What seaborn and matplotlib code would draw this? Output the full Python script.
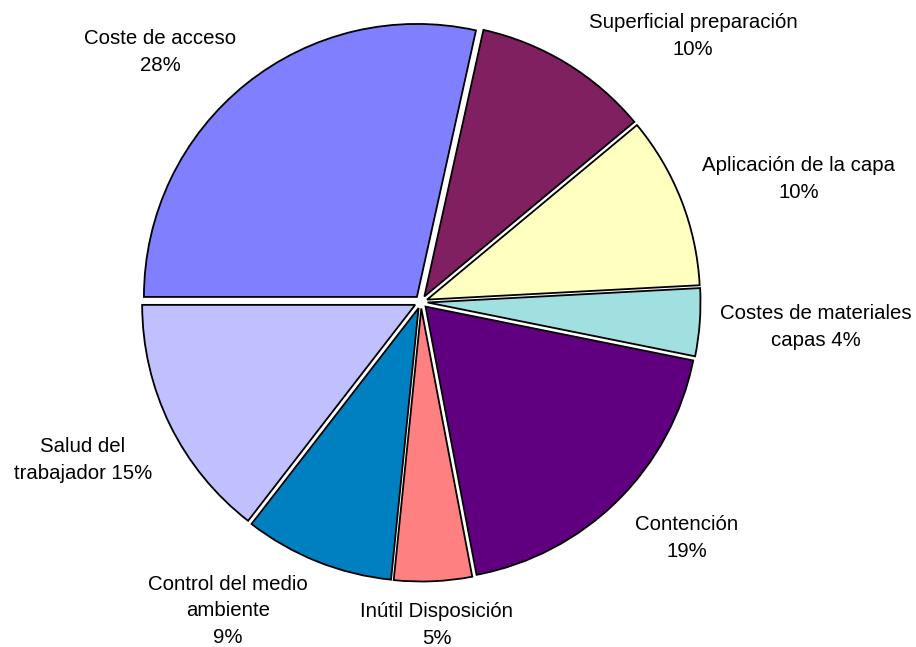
import matplotlib
matplotlib.use("Agg")
import matplotlib.pyplot as plt
import seaborn as sns

# Cost breakdown (% of total), clockwise from the 9 o'clock position
categories = [
    "Coste de acceso",
    "Superficial preparación",
    "Aplicación de la capa",
    "Costes de materiales capas",
    "Contención",
    "Inútil Disposición",
    "Control del medio ambiente",
    "Salud del trabajador",
]
shares = [28.47, 10.49, 10.2, 4.0, 18.85, 4.6, 8.87, 14.52]

# How each category name is broken over lines in its label ({} = share)
label_templates = [
    "Coste de acceso\n{}%",
    "Superficial preparación\n{}%",
    "Aplicación de la capa\n{}%",
    "Costes de materiales\ncapas {}%",
    "Contención\n{}%",
    "Inútil Disposición\n{}%",
    "Control del medio\nambiente\n{}%",
    "Salud del\ntrabajador {}%",
]

colors = ["#8080FF", "#802060", "#FFFFC0", "#A0E0E0",
          "#600080", "#FF8080", "#0080C0", "#C0C0FF"]

sns.set_theme(style="white")
plt.rcParams["font.family"] = ["Liberation Sans", "DejaVu Sans"]

W, H = 916, 647
fig = plt.figure(figsize=(W / 100, H / 100), dpi=100)
ax = fig.add_axes([0, 0, 1, 1])

cx, cy, r = 421, H - 302, 273
ax.pie(
    shares,
    colors=colors,
    startangle=180,
    counterclock=False,
    explode=[6.5] * len(shares),   # offset in pixels (data units)
    center=(cx, cy),
    radius=r,
    wedgeprops=dict(edgecolor="black", linewidth=1.3),
    frame=False,
)
ax.set_xlim(0, W)
ax.set_ylim(0, H)
ax.set_aspect("equal")
ax.axis("off")

# Label anchor points (pixel centres, measured from the top-left)
label_pos = [(160, 52), (693, 36), (799, 179), (816, 327),
             (687, 538), (437, 625), (228, 611), (83, 460)]

total = sum(shares)
for tmpl, val, (px, py) in zip(label_templates, shares, label_pos):
    pct = int(round(100 * val / total))
    ax.text(px, H - py, tmpl.format(pct), ha="center", va="center",
            fontsize=14.7, color="black", linespacing=1.48)

fig.savefig("out.png", dpi=100, facecolor="white")
